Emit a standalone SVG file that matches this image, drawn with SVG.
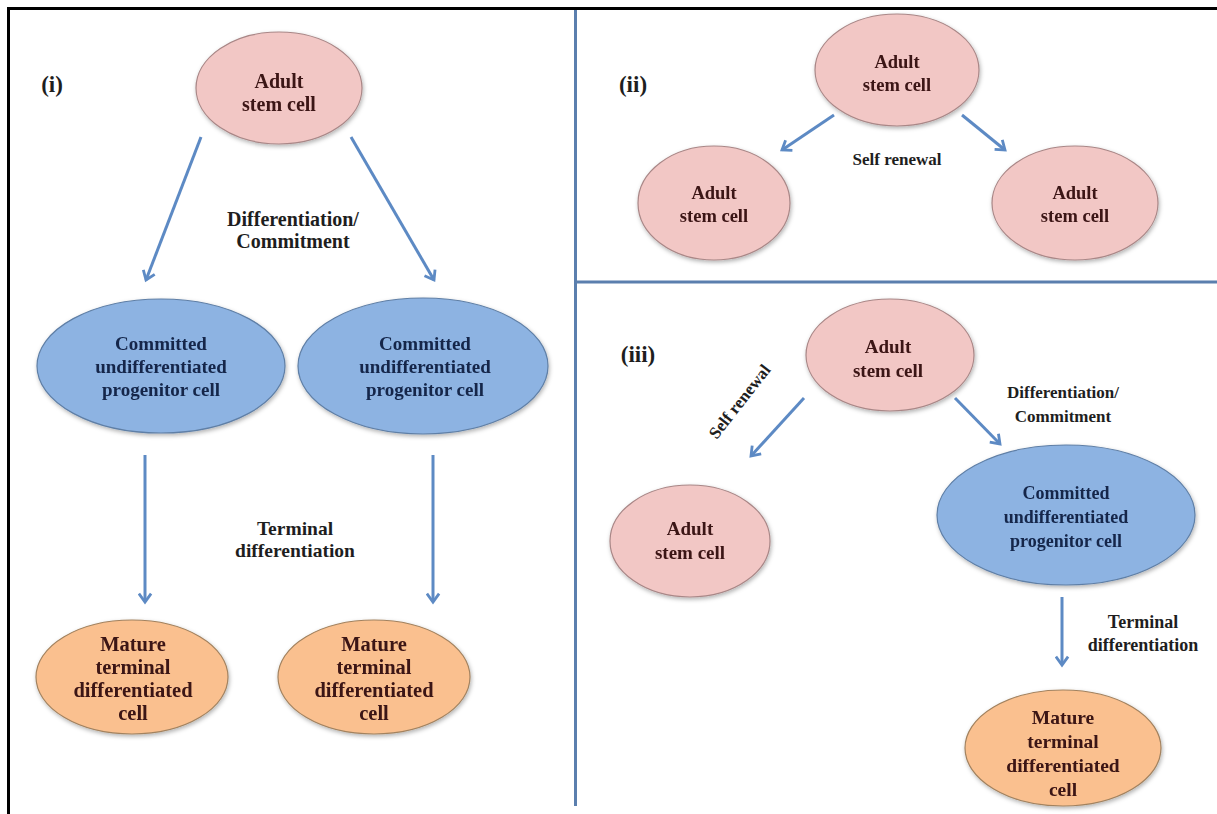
<svg xmlns="http://www.w3.org/2000/svg" width="1217" height="814" viewBox="0 0 1217 814">
<style>
text{font-family:"Liberation Serif","Times New Roman",serif;font-weight:bold;text-anchor:middle}
.pink{fill:#f2c7c5;stroke:#a98787;stroke-width:1.2}
.blue{fill:#8db3e2;stroke:#5f7fa6;stroke-width:1.2}
.orange{fill:#fac08f;stroke:#a2825f;stroke-width:1.2}
.tp{fill:#3a1212}
.tb{fill:#13254a}
.lbl{fill:#1e1e1e}
.big{font-size:19px}
.sm{font-size:17px}
.arr{stroke:#5d8ac4;stroke-width:3;fill:none;marker-end:url(#ah)}
.div{stroke:#5b7fae;stroke-width:3;fill:none}
</style>
<defs>
<filter id="sh" x="-20%" y="-20%" width="140%" height="150%">
<feDropShadow dx="1" dy="2" stdDeviation="2" flood-color="#000" flood-opacity="0.3"/>
</filter>
<marker id="ah" viewBox="0 0 16 16" markerWidth="15" markerHeight="15" refX="13" refY="8" orient="auto" markerUnits="userSpaceOnUse">
<path d="M4,1.5 L13,8 L4,14.5" fill="none" stroke="#5d8ac4" stroke-width="3"/>
</marker>
</defs>
<rect width="1217" height="814" fill="#ffffff"/>
<g id="frame">
<path d="M8.5,814 V8.5 H1217" fill="none" stroke="#000" stroke-width="3"/>
<path class="div" d="M575.5,10 V806"/>
<path class="div" d="M575.5,282 H1217"/>
</g>
<g id="labels">
<text class="lbl" x="52" y="92" style="font-size:23px">(i)</text>
<text class="lbl" x="633" y="92" style="font-size:23px">(ii)</text>
<text class="lbl" x="638" y="362" style="font-size:23px">(iii)</text>
<text class="lbl" x="293" y="226" style="font-size:20px">Differentiation/</text>
<text class="lbl" x="293" y="248" style="font-size:20px">Commitment</text>
<text class="lbl" x="295" y="535" style="font-size:19.5px">Terminal</text>
<text class="lbl" x="295" y="557" style="font-size:19.5px">differentiation</text>
<text class="lbl sm" x="897" y="165">Self renewal</text>
<text class="lbl sm" x="1063" y="398">Differentiation/</text>
<text class="lbl sm" x="1063" y="422">Commitment</text>
<text class="lbl" x="1143" y="628" style="font-size:18px">Terminal</text>
<text class="lbl" x="1143" y="651" style="font-size:18px">differentiation</text>
<text class="lbl sm" transform="translate(744,405) rotate(-52)">Self renewal</text>
</g>
<g id="connectors">
<path class="arr" d="M201,137 L146,280"/>
<path class="arr" d="M351,137 L434,280"/>
<path class="arr" d="M145,455 V602"/>
<path class="arr" d="M433,455 V602"/>
<path class="arr" d="M834,115 L782,150"/>
<path class="arr" d="M962,115 L1005,150"/>
<path class="arr" d="M804,398 L751,456"/>
<path class="arr" d="M955,398 L1000,444"/>
<path class="arr" d="M1062,597 V665"/>
</g>
<g id="n1" filter="url(#sh)">
<ellipse class="pink" cx="279" cy="88" rx="83" ry="56"/>
<text class="tp" x="279" y="88" style="font-size:20px">Adult</text>
<text class="tp" x="279" y="111" style="font-size:20px">stem cell</text>
</g>
<g id="n2" filter="url(#sh)">
<ellipse class="blue" cx="161" cy="366" rx="124" ry="67"/>
<text class="tb big" x="161" y="350">Committed</text>
<text class="tb big" x="161" y="373">undifferentiated</text>
<text class="tb big" x="161" y="396">progenitor cell</text>
</g>
<g id="n3" filter="url(#sh)">
<ellipse class="blue" cx="423" cy="366" rx="125" ry="68"/>
<text class="tb big" x="425" y="350">Committed</text>
<text class="tb big" x="425" y="373">undifferentiated</text>
<text class="tb big" x="425" y="396">progenitor cell</text>
</g>
<g id="n4" filter="url(#sh)">
<ellipse class="orange" cx="132" cy="677" rx="96" ry="57"/>
<text class="tp" x="133" y="651" style="font-size:20.5px">Mature</text>
<text class="tp" x="133" y="674" style="font-size:20.5px">terminal</text>
<text class="tp" x="133" y="697" style="font-size:20.5px">differentiated</text>
<text class="tp" x="133" y="720" style="font-size:20.5px">cell</text>
</g>
<g id="n5" filter="url(#sh)">
<ellipse class="orange" cx="374" cy="677" rx="96" ry="57"/>
<text class="tp" x="374" y="651" style="font-size:20.5px">Mature</text>
<text class="tp" x="374" y="674" style="font-size:20.5px">terminal</text>
<text class="tp" x="374" y="697" style="font-size:20.5px">differentiated</text>
<text class="tp" x="374" y="720" style="font-size:20.5px">cell</text>
</g>
<g id="n6" filter="url(#sh)">
<ellipse class="pink" cx="897" cy="70" rx="82" ry="56"/>
<text class="tp" x="897" y="68" style="font-size:18.5px">Adult</text>
<text class="tp" x="897" y="91" style="font-size:18.5px">stem cell</text>
</g>
<g id="n7" filter="url(#sh)">
<ellipse class="pink" cx="714" cy="203" rx="76" ry="57"/>
<text class="tp" x="714" y="199" style="font-size:18.5px">Adult</text>
<text class="tp" x="714" y="222" style="font-size:18.5px">stem cell</text>
</g>
<g id="n8" filter="url(#sh)">
<ellipse class="pink" cx="1075" cy="203" rx="83" ry="57"/>
<text class="tp" x="1075" y="199" style="font-size:18.5px">Adult</text>
<text class="tp" x="1075" y="222" style="font-size:18.5px">stem cell</text>
</g>
<g id="n9" filter="url(#sh)">
<ellipse class="pink" cx="890" cy="355" rx="84" ry="56"/>
<text class="tp" x="888" y="353" style="font-size:19px">Adult</text>
<text class="tp" x="888" y="377" style="font-size:19px">stem cell</text>
</g>
<g id="n10" filter="url(#sh)">
<ellipse class="pink" cx="690" cy="541" rx="80" ry="56"/>
<text class="tp" x="690" y="535" style="font-size:19px">Adult</text>
<text class="tp" x="690" y="559" style="font-size:19px">stem cell</text>
</g>
<g id="n11" filter="url(#sh)">
<ellipse class="blue" cx="1066" cy="515" rx="129" ry="70"/>
<text class="tb" x="1066" y="499" style="font-size:18px">Committed</text>
<text class="tb" x="1066" y="523" style="font-size:18px">undifferentiated</text>
<text class="tb" x="1066" y="547" style="font-size:18px">progenitor cell</text>
</g>
<g id="n12" filter="url(#sh)">
<ellipse class="orange" cx="1063" cy="748" rx="98" ry="58"/>
<text class="tp" x="1063" y="724" style="font-size:19.5px">Mature</text>
<text class="tp" x="1063" y="748" style="font-size:19.5px">terminal</text>
<text class="tp" x="1063" y="772" style="font-size:19.5px">differentiated</text>
<text class="tp" x="1063" y="796" style="font-size:19.5px">cell</text>
</g>
</svg>
